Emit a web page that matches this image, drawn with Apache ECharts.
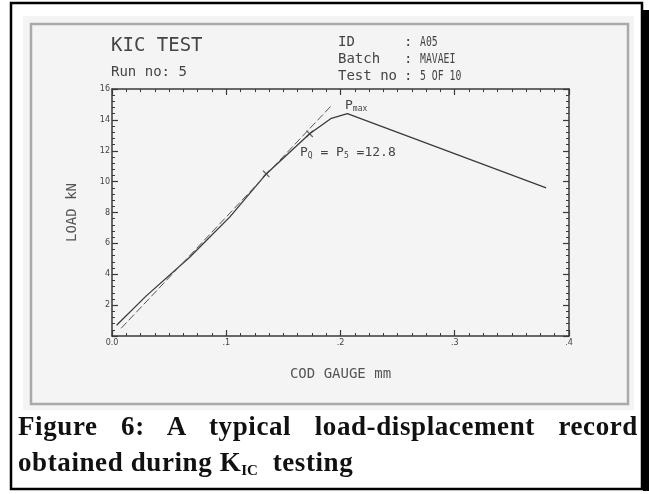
<!DOCTYPE html>
<html>
<head>
<meta charset="utf-8">
<script src="https://cdn.jsdelivr.net/npm/echarts@6/dist/echarts.min.js"></script>
<style>
  html, body { margin: 0; padding: 0; background: #fff; }
  #chart { position: absolute; left: 0; top: 0; width: 649px; height: 494px; }
  .cap { position: absolute; left: 18px; width: 620px; font-family: 'Liberation Serif', serif;
         font-weight: bold; font-size: 27px; letter-spacing: 0.6px; color: #111; white-space: nowrap; }
  #cap1 { top: 411px; text-align: justify; text-align-last: justify; white-space: normal; }
  #cap2 { top: 447px; }
  #cap2 sub { font-size: 15px; letter-spacing: 0; vertical-align: -4px; }
</style>
</head>
<body>
<div id="chart"></div>
<div class="cap" id="cap1">Figure 6: A typical load-displacement record</div>
<div class="cap" id="cap2">obtained during K<sub>IC</sub>&nbsp; testing</div>
<script>
// 轴刻度
const xTicks = [0, 0.1, 0.2, 0.3, 0.4];
const yTicks = [0, 2, 4, 6, 8, 10, 12, 14, 16];

// 载荷-位移曲线 (COD mm, LOAD kN)
const codGauge = [0.004, 0.03, 0.068, 0.103, 0.135, 0.173, 0.192, 0.206, 0.38];
const loadKN = [0.7, 2.6, 5.1, 7.7, 10.5, 13.1, 14.1, 14.4, 9.6];

// 5% 割线 (虚线)
const secantX = [0.008, 0.193];
const secantY = [0.5, 15.0];

// 标记点
const markX = [0.135, 0.173];
const markY = [10.5, 13.1];

// 表头文字
const headLabels = ['ID', 'Batch', 'Test no'];
const headValues = ['A05', 'MAVAEI', '5 OF 10'];

const chart = echarts.init(document.getElementById('chart'));

const pair = (xs, ys) => xs.map((x, i) => [x, ys[i]]);
const mono = "'DejaVu Sans Mono', monospace";
const ink = '#3a3a3a';
const txt = '#454545';

const axisCommon = {
  type: 'value',
  axisLine: { show: true, onZero: false, lineStyle: { color: ink, width: 1.5 } },
  axisTick: { show: true, inside: true, length: 6, lineStyle: { color: ink, width: 1.2 } },
  minorTick: { show: true, length: 3, lineStyle: { color: ink, width: 1 } },
  splitLine: { show: false }
};

// 表头三行: 标签 / 冒号 / 压缩的值
const headGraphics = [];
headLabels.forEach((lab, i) => {
  const y = 35 + i * 17;
  headGraphics.push({ type: 'text', x: 338, y: y, style: { text: lab, font: '14px ' + mono, fill: txt } });
  headGraphics.push({ type: 'text', x: 404, y: y, style: { text: ':', font: '14px ' + mono, fill: txt } });
  headGraphics.push({ type: 'text', x: 420, y: y, scaleX: 0.7, originX: 0,
    style: { text: headValues[i], font: '14px ' + mono, fill: txt } });
});

const rich = {
  p: { fontSize: 13, fontFamily: mono, fill: txt },
  s: { fontSize: 8, fontFamily: mono, fill: txt, padding: [7, 0, 0, 0] }
};

let option = {
  animation: false,
  grid: { left: 112, top: 89, width: 457, height: 247 },
  xAxis: [
    Object.assign({}, axisCommon, {
      min: xTicks[0], max: xTicks[xTicks.length - 1], interval: 0.1,
      minorTick: Object.assign({}, axisCommon.minorTick, { splitNumber: 8 }),
      name: 'COD GAUGE mm', nameLocation: 'middle', nameGap: 31,
      nameTextStyle: { fontFamily: mono, fontSize: 14, color: '#555' },
      axisLabel: {
        margin: 3, fontSize: 8, color: '#444', fontFamily: 'DejaVu Sans',
        formatter: v => v === 0 ? '0.0' : '.' + Math.round(v * 10)
      }
    }),
    Object.assign({}, axisCommon, {
      position: 'top', min: 0, max: 0.4, interval: 0.1,
      minorTick: Object.assign({}, axisCommon.minorTick, { splitNumber: 8 }),
      axisLabel: { show: false }
    })
  ],
  yAxis: [
    Object.assign({}, axisCommon, {
      min: yTicks[0], max: yTicks[yTicks.length - 1], interval: 2,
      minorTick: Object.assign({}, axisCommon.minorTick, { splitNumber: 5 }),
      name: 'LOAD kN', nameLocation: 'middle', nameGap: 33,
      nameTextStyle: { fontFamily: mono, fontSize: 14, color: '#555' },
      axisLabel: { margin: 2, fontSize: 8, color: '#444', fontFamily: 'DejaVu Sans', showMinLabel: false }
    }),
    Object.assign({}, axisCommon, {
      position: 'right', min: 0, max: 16, interval: 2,
      minorTick: Object.assign({}, axisCommon.minorTick, { splitNumber: 5 }),
      axisLabel: { show: false }
    })
  ],
  graphic: [
    // 外框
    { type: 'rect', z: -5, shape: { x: 11, y: 3, width: 631, height: 486 },
      style: { fill: '#fff', stroke: '#000', lineWidth: 2.5 } },
    { type: 'rect', z: -5, shape: { x: 643, y: 10, width: 6, height: 481 }, style: { fill: '#000' } },
    // 灰色底板
    { type: 'rect', z: -4, shape: { x: 23, y: 16, width: 611, height: 394 }, style: { fill: '#f4f4f4' } },
    { type: 'rect', z: -3, shape: { x: 31, y: 24, width: 597, height: 380 },
      style: { fill: 'none', stroke: '#a9a9a9', lineWidth: 2.5 } },
    // 标题文字
    { type: 'text', left: 111, top: 37, style: { text: 'KIC TEST', font: '19px ' + mono, fill: txt } },
    { type: 'text', left: 111, top: 65, style: { text: 'Run no: 5', font: '14px ' + mono, fill: txt } },
    ...headGraphics,
    // 注释
    { type: 'text', left: 345, top: 99, style: { rich: rich, text: '{p|P}{s|max}' } },
    { type: 'text', left: 300, top: 146, style: { rich: rich, text: '{p|P}{s|Q}{p| = P}{s|5}{p| =12.8}' } }
  ],
  series: [
    {
      type: 'line', data: pair(codGauge, loadKN), showSymbol: false,
      lineStyle: { color: ink, width: 1.3 }
    },
    {
      type: 'line', data: pair(secantX, secantY), showSymbol: false,
      lineStyle: { color: '#555', width: 1, type: [8, 3] }
    },
    {
      type: 'scatter', data: pair(markX, markY),
      symbol: 'path://M0,5L10,5M5,0L5,10', symbolSize: 9, symbolRotate: 45,
      itemStyle: { color: 'none', borderColor: ink, borderWidth: 1.2 }
    }
  ]
};

chart.setOption(option);
</script>
</body>
</html>
